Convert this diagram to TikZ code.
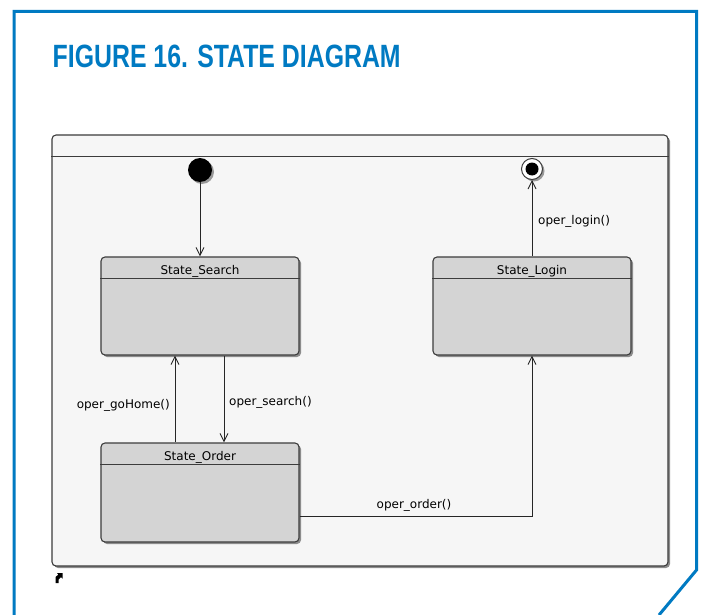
\documentclass[tikz,border=0pt]{standalone}
\usepackage{fontspec}
\setmainfont{DejaVu Sans}
\newfontfamily\headfont{Liberation Sans}
\usetikzlibrary{arrows.meta,shadows,calc}

\definecolor{pageblue}{RGB}{0,122,194}
\definecolor{framefill}{RGB}{246,246,246}
\definecolor{statefill}{RGB}{212,212,212}
\definecolor{edgegray}{RGB}{60,60,60}

\tikzset{
  umlshadow/.style={drop shadow={shadow xshift=2pt, shadow yshift=-2pt, fill=black!45, opacity=1}},
  framebox/.style={draw=edgegray, line width=1.1pt, fill=framefill, rounded corners=4pt, umlshadow},
  statebox/.style={draw=edgegray, line width=1.1pt, fill=statefill, rounded corners=4pt,
    minimum width=198pt, minimum height=98pt, inner sep=0pt, umlshadow},
  statename/.style={font=\fontsize{12pt}{14pt}\selectfont, inner sep=0pt, anchor=base},
  trans/.style={draw=black!85, line width=0.9pt, -{Straight Barb[length=8pt, width=8pt, line width=0.9pt]}},
  translabel/.style={font=\fontsize{12pt}{14pt}\selectfont, inner sep=0pt},
}

\begin{document}
\begin{tikzpicture}[x=1pt, y=-1pt]
\useasboundingbox (0,0) rectangle (701,615);

% page border with cut corner
\draw[pageblue, line width=3pt, line join=miter]
  (14,615) -- (14,11.5) -- (696.5,11.5) -- (696.5,570) -- (659,615);

% caption
\node[anchor=base west, inner sep=0pt, text=pageblue] (caption) at (52.5,68)
  {\resizebox{348pt}{22.5pt}{\headfont\bfseries FIGURE 16. STATE DIAGRAM}};

% diagram frame with header strip
\node[framebox, minimum width=616pt, minimum height=431pt, inner sep=0pt] (frame) at (360,350.5) {};
\draw[edgegray, line width=1.1pt] ([yshift=-22pt]frame.north west) -- ([yshift=-22pt]frame.north east);

% initial pseudo-state
\node[circle, fill=black, minimum size=24pt, inner sep=0pt,
  drop shadow={shadow xshift=2pt, shadow yshift=-2pt, fill=black!40, opacity=1}] (init) at (200,170) {};

% final state
\node[circle, draw=edgegray, line width=1pt, fill=white, minimum size=21pt, inner sep=0pt,
  drop shadow={shadow xshift=2pt, shadow yshift=-2pt, fill=black!40, opacity=1}] (final) at (532,169) {};
\node[circle, fill=black, minimum size=13pt, inner sep=0pt] (finaldot) at (final) {};

% states
\node[statebox] (search) at (200,306) {};
\draw[edgegray, line width=1.1pt] ([yshift=-22pt]search.north west) -- ([yshift=-22pt]search.north east);
\node[statename] (searchname) at ([yshift=-18.5pt]search.north) {State\_Search};

\node[statebox] (login) at (532,306) {};
\draw[edgegray, line width=1.1pt] ([yshift=-22pt]login.north west) -- ([yshift=-22pt]login.north east);
\node[statename] (loginname) at ([yshift=-18.5pt]login.north) {State\_Login};

\node[statebox, minimum height=99pt] (order) at (200,492.5) {};
\draw[edgegray, line width=1.1pt] ([yshift=-22pt]order.north west) -- ([yshift=-22pt]order.north east);
\node[statename] (ordername) at ([yshift=-18.5pt]order.north) {State\_Order};

% transitions
\draw[trans] (init) -- (search.north);
\draw[trans] ([xshift=-25pt]order.north) -- ([xshift=-25pt]search.south);
\draw[trans] ([xshift=24pt]search.south) -- ([xshift=24pt]order.north);
\draw[trans] ([yshift=-23.5pt]order.east) -| (login.south);
\draw[trans] (login.north) -- (final.south);

% transition labels
\node[translabel, anchor=base west] (lbllogin) at (538,224) {oper\_login()};
\node[translabel, anchor=base east] (lblhome) at (170,408) {oper\_goHome()};
\node[translabel, anchor=base west] (lblsearch) at (229,405) {oper\_search()};
\node[translabel, anchor=base] (lblorder) at (414,508) {oper\_order()};

% small corner glyph under the frame
\fill[black] (55.5,583) -- (55.5,577) -- (58.5,574.5) -- (57,573) -- (62.5,573) -- (62.5,578.5)
  -- (61,577) -- (58.5,579.5) -- (58.5,583) -- cycle;
\end{tikzpicture}
\end{document}
